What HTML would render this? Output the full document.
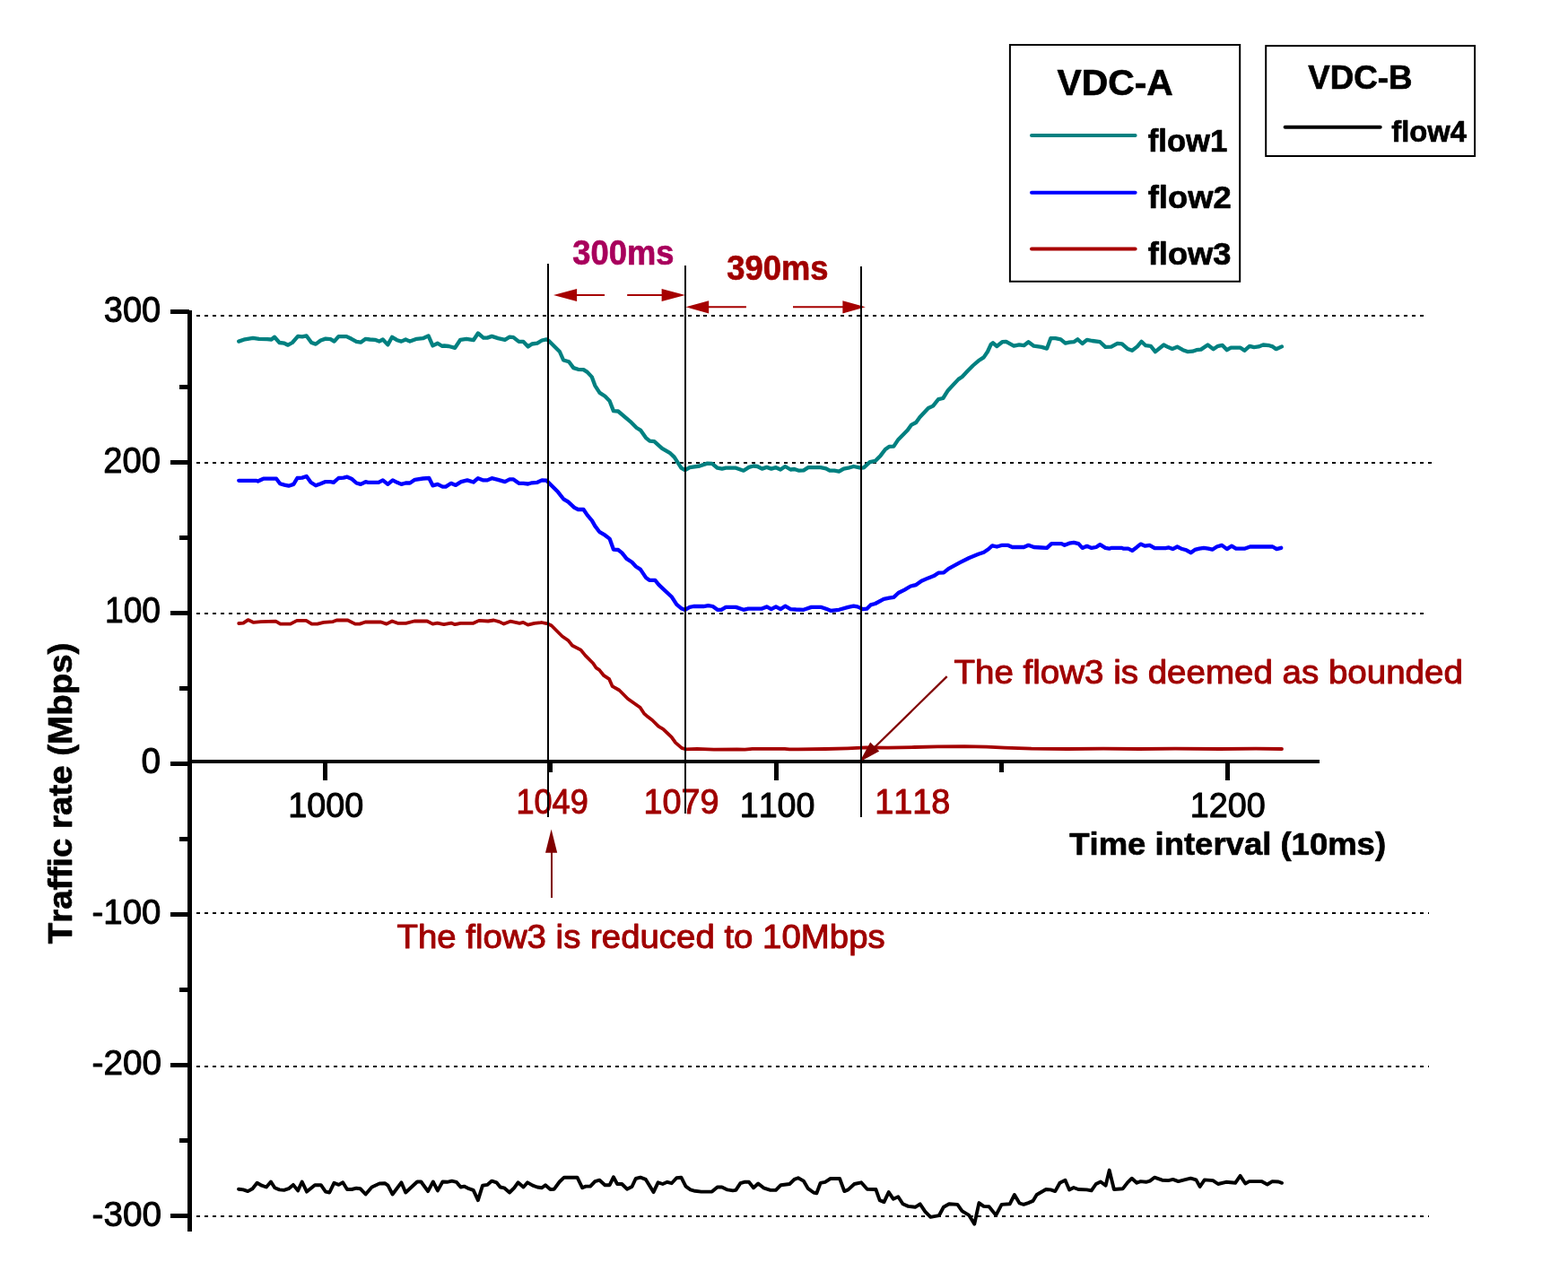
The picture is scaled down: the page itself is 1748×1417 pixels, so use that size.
<!DOCTYPE html>
<html lang="en"><head><meta charset="utf-8"><title>Traffic rate vs time interval</title>
<style>
html,body{margin:0;padding:0;background:#fff;overflow:hidden;}
svg{display:block;}
text{font-family:"Liberation Sans",sans-serif;stroke-linejoin:round;font-kerning:none;}
</style></head><body>
<svg width="1748" height="1417" viewBox="0 0 1748 1417">
<rect width="1748" height="1417" fill="#fff"/>
<g id="grid" stroke="#000" stroke-width="2" stroke-dasharray="4 4.976" fill="none" shape-rendering="crispEdges">
<line x1="219" y1="352" x2="1589.5" y2="352"/>
<line x1="219" y1="516" x2="1597" y2="516"/>
<line x1="219" y1="684" x2="1589.5" y2="684"/>
<line x1="219" y1="1018" x2="1592.8" y2="1018"/>
<line x1="219" y1="1189" x2="1592.8" y2="1189"/>
<line x1="219" y1="1356" x2="1592.8" y2="1356"/>
</g>
<g id="series" fill="none" stroke-linejoin="round" stroke-linecap="round">
<path stroke="#008080" stroke-width="4.3" d="M266.2 380.6 L273.0 378.3 L282.0 376.8 L288.8 377.8 L297.8 378.1 L302.6 378.5 L306.0 375.8 L311.5 382.0 L317.0 382.7 L321.1 384.7 L325.9 382.0 L332.1 374.8 L336.9 375.4 L341.7 374.4 L347.2 382.0 L352.0 383.6 L357.5 379.5 L363.0 377.6 L368.5 378.1 L372.6 380.6 L377.4 375.1 L386.3 375.1 L391.8 377.8 L397.3 380.9 L402.1 381.7 L407.6 377.8 L412.4 378.5 L417.9 378.8 L422.7 380.6 L426.8 378.5 L432.3 384.4 L437.1 375.8 L442.6 379.2 L447.4 380.6 L452.2 378.5 L457.0 380.6 L464.6 377.8 L471.5 377.2 L477.6 374.4 L482.4 385.4 L487.9 382.7 L492.7 385.8 L495.1 385.5 L500.3 386.0 L507.2 387.8 L513.2 378.8 L520.0 377.8 L527.8 379.2 L532.9 371.5 L538.9 376.6 L543.2 376.6 L548.3 374.9 L555.2 377.1 L562.9 378.8 L568.1 375.7 L572.4 376.1 L578.4 380.9 L583.5 380.9 L588.7 386.4 L593.0 383.5 L599.0 382.6 L604.1 379.5 L609.3 378.3 L611.8 380.0 L623.9 392.0 L628.1 401.5 L634.2 403.2 L639.3 410.1 L644.5 411.8 L650.5 412.1 L654.8 414.9 L659.9 420.4 L663.3 429.8 L668.5 437.9 L674.5 441.8 L679.6 447.0 L683.9 458.1 L689.1 458.5 L702.8 470.1 L709.7 477.0 L714.0 479.6 L720.0 488.1 L724.3 491.6 L729.4 492.1 L738.0 499.8 L746.6 504.8 L751.7 509.6 L759.4 521.6 L763.7 524.2 L768.9 521.2 L780.0 519.5 L788.6 516.6 L793.8 516.9 L799.8 521.7 L804.9 522.6 L809.2 521.7 L820.4 521.7 L828.9 524.7 L834.9 520.9 L840.1 519.5 L844.4 520.0 L849.5 522.6 L854.7 520.9 L859.8 522.6 L865.0 521.2 L870.1 523.5 L875.3 520.0 L881.3 523.5 L885.6 523.0 L890.7 524.7 L895.9 524.3 L901.0 521.2 L914.8 521.2 L920.8 522.3 L925.0 524.7 L930.2 524.7 L935.3 525.7 L940.5 522.6 L945.6 521.7 L951.6 520.0 L959.4 521.7 L962.9 521.3 L969.7 515.1 L975.7 513.9 L981.7 507.9 L986.9 501.0 L991.2 497.9 L996.3 497.6 L1001.5 489.9 L1011.8 479.6 L1016.1 473.6 L1021.2 471.0 L1025.5 465.0 L1034.9 455.0 L1040.1 452.6 L1046.1 445.2 L1051.3 444.0 L1056.4 435.8 L1068.4 422.9 L1072.7 420.0 L1078.7 413.5 L1084.7 407.5 L1090.7 402.3 L1096.7 398.4 L1101.0 392.0 L1104.5 384.3 L1107.0 382.3 L1111.3 386.0 L1117.3 381.2 L1121.6 380.9 L1130.2 385.7 L1136.2 384.3 L1141.4 385.2 L1146.5 381.2 L1152.5 385.7 L1161.1 386.9 L1167.1 388.6 L1171.4 377.1 L1176.5 377.1 L1182.5 378.3 L1187.7 382.6 L1192.0 381.7 L1197.1 381.2 L1201.4 378.3 L1206.6 383.0 L1211.7 378.8 L1217.7 380.0 L1226.3 381.2 L1232.3 386.9 L1238.8 386.7 L1245.7 382.9 L1250.8 383.3 L1257.1 388.9 L1262.1 390.8 L1267.8 386.4 L1272.5 380.8 L1277.2 385.2 L1282.9 385.8 L1287.9 392.1 L1297.3 384.5 L1302.4 387.1 L1306.8 388.9 L1312.4 386.7 L1318.7 390.2 L1323.8 392.1 L1329.4 391.7 L1333.8 390.2 L1338.9 389.6 L1346.4 384.5 L1352.7 389.2 L1357.8 385.8 L1362.8 384.9 L1367.8 390.2 L1372.2 387.7 L1382.9 387.7 L1387.3 390.8 L1393.0 385.8 L1398.0 387.1 L1403.1 386.4 L1408.1 384.5 L1415.0 385.2 L1418.8 386.4 L1422.6 389.2 L1428.9 386.4"/>
<path stroke="#0000ff" stroke-width="4.3" d="M266.2 535.8 L285.4 535.8 L287.5 536.5 L293.6 533.7 L308.1 533.7 L312.2 539.2 L317.0 540.6 L321.8 541.7 L327.3 539.9 L331.4 533.0 L336.9 532.6 L341.7 531.0 L346.5 537.8 L352.0 541.3 L357.5 539.2 L362.3 537.2 L368.5 537.2 L371.9 537.8 L377.4 533.0 L382.9 532.6 L387.0 531.7 L391.8 533.7 L397.3 538.5 L402.1 539.9 L407.6 537.2 L410.4 537.8 L422.0 537.8 L426.8 535.4 L432.3 539.9 L437.8 535.4 L442.6 537.8 L447.4 539.9 L452.2 538.5 L457.0 538.5 L462.5 534.8 L471.5 533.5 L478.3 533.0 L482.4 541.3 L487.9 539.9 L493.4 542.7 L496.9 542.6 L502.9 538.8 L508.0 540.9 L514.0 537.1 L520.9 535.4 L527.8 537.5 L532.9 533.2 L538.9 535.4 L543.2 535.4 L548.3 533.2 L555.2 534.9 L562.9 537.1 L568.1 534.4 L572.4 534.4 L578.4 538.8 L583.5 538.8 L588.7 539.5 L593.0 538.3 L599.0 537.8 L604.1 535.4 L609.3 535.7 L611.8 538.3 L622.1 548.6 L628.1 556.3 L633.3 559.4 L640.2 565.8 L644.5 568.0 L650.5 568.0 L654.8 574.4 L659.9 580.4 L663.3 586.4 L668.5 593.2 L674.5 596.7 L679.6 600.6 L683.9 612.6 L689.1 613.0 L693.4 616.4 L698.5 622.9 L704.5 626.7 L708.8 631.5 L714.0 634.9 L720.0 643.9 L724.3 646.9 L730.3 646.9 L734.6 652.1 L749.1 665.8 L754.3 673.9 L759.4 678.2 L763.7 679.9 L768.9 676.9 L773.2 676.0 L784.3 676.0 L789.5 675.2 L794.6 676.0 L799.8 679.8 L804.1 679.8 L809.2 676.9 L820.4 676.9 L828.9 679.8 L834.1 678.6 L849.5 678.6 L854.7 676.4 L859.8 679.1 L865.0 676.4 L870.1 679.1 L875.3 675.7 L881.3 679.1 L887.3 679.5 L895.9 679.8 L904.5 676.9 L915.6 676.9 L921.6 679.1 L925.9 680.8 L935.3 679.8 L945.6 676.9 L951.6 675.7 L955.9 676.4 L961.9 679.1 L966.3 678.7 L970.6 674.4 L975.7 673.0 L985.2 667.9 L991.2 666.7 L996.3 665.8 L1001.5 661.0 L1008.3 657.6 L1015.2 653.5 L1021.2 652.1 L1027.2 647.8 L1034.9 644.4 L1041.0 642.1 L1046.1 638.7 L1052.1 638.3 L1057.3 634.1 L1070.1 627.2 L1080.4 622.0 L1090.7 617.8 L1096.7 615.7 L1101.9 612.3 L1106.2 608.3 L1111.3 609.5 L1117.3 607.8 L1123.3 607.8 L1128.5 610.0 L1141.4 610.0 L1146.5 607.8 L1152.5 610.0 L1161.1 610.5 L1167.1 610.9 L1172.2 606.1 L1183.4 606.1 L1186.8 607.8 L1192.0 605.7 L1197.1 604.9 L1202.3 606.1 L1206.6 610.9 L1211.7 608.8 L1216.9 610.9 L1222.0 610.0 L1226.3 607.1 L1232.3 610.9 L1236.6 611.7 L1239.4 610.8 L1250.1 610.8 L1252.7 611.7 L1257.7 611.7 L1262.1 613.9 L1267.1 610.2 L1271.5 606.6 L1276.6 608.7 L1281.6 607.9 L1287.3 611.2 L1299.2 611.2 L1303.0 610.4 L1307.4 612.1 L1312.4 609.5 L1316.8 611.7 L1322.5 613.3 L1327.5 616.2 L1332.0 612.9 L1337.0 611.7 L1342.0 610.8 L1347.1 611.7 L1351.5 612.7 L1356.5 609.5 L1362.2 607.9 L1367.8 612.1 L1372.9 608.7 L1377.9 611.7 L1387.3 611.7 L1393.6 609.5 L1418.8 609.5 L1423.2 612.1 L1428.2 610.8"/>
<path stroke="#a40000" stroke-width="3.8" d="M266.2 695.0 L271.3 694.6 L276.5 691.1 L282.7 693.9 L290.9 693.1 L307.4 692.7 L312.5 695.6 L323.8 695.6 L331.0 691.9 L341.3 691.9 L347.5 695.6 L353.7 695.6 L360.9 693.9 L371.2 693.1 L375.3 691.5 L387.7 691.5 L395.9 695.6 L401.1 695.6 L407.2 693.5 L424.7 693.5 L430.9 695.6 L437.1 692.5 L443.3 694.8 L452.5 694.8 L461.8 692.5 L476.2 692.5 L482.4 695.6 L487.6 694.6 L494.8 696.2 L503.0 694.6 L507.1 696.2 L513.3 694.8 L527.7 694.8 L533.9 691.9 L544.2 692.5 L550.4 691.5 L556.5 693.1 L561.7 695.6 L568.9 692.7 L579.2 694.8 L583.3 693.9 L588.5 696.6 L595.7 694.8 L602.9 694.2 L603.7 694.0 L610.6 695.4 L614.9 697.5 L626.9 709.5 L633.8 714.3 L638.1 719.8 L647.5 724.6 L652.6 730.9 L661.2 739.5 L664.7 744.7 L668.1 746.9 L673.2 753.2 L679.2 757.2 L682.7 765.2 L690.4 769.5 L699.8 779.0 L713.6 788.8 L717.9 795.3 L722.1 799.1 L727.3 803.0 L734.2 809.9 L739.3 812.8 L748.7 821.9 L753.0 827.9 L759.9 833.9 L764.2 835.3 L777.1 834.8 L795.9 835.6 L821.7 835.3 L830.3 835.6 L838.8 834.8 L874.9 834.8 L880.0 835.3 L890.0 835.3 L920.0 835.0 L945.0 834.3 L965.0 833.4 L990.0 833.6 L1020.0 833.0 L1045.0 832.4 L1075.0 832.2 L1100.0 832.6 L1120.0 833.6 L1150.0 834.6 L1190.0 835.0 L1230.0 834.6 L1270.0 835.0 L1310.0 834.6 L1360.0 835.0 L1400.0 834.7 L1429.0 835.0"/>
<path stroke="#000" stroke-width="3.9" d="M266.0 1325.7 L271.2 1326.4 L276.3 1328.1 L281.5 1325.2 L286.6 1318.8 L291.7 1321.7 L296.9 1323.5 L302.0 1317.5 L306.3 1324.3 L311.5 1326.4 L316.6 1326.9 L321.8 1325.2 L326.9 1320.9 L332.1 1327.4 L336.7 1317.5 L342.0 1328.6 L351.0 1321.2 L357.8 1321.2 L363.0 1328.6 L367.3 1329.5 L372.4 1318.8 L377.6 1320.9 L382.2 1318.3 L387.0 1326.0 L392.1 1326.0 L397.3 1324.7 L401.6 1325.2 L407.6 1331.5 L414.5 1323.5 L423.0 1319.5 L429.0 1319.2 L432.5 1321.7 L437.6 1331.5 L447.4 1318.3 L452.2 1329.5 L465.1 1317.5 L469.4 1317.5 L477.1 1328.1 L482.8 1317.5 L487.9 1327.4 L493.4 1317.5 L498.5 1317.8 L503.7 1316.6 L508.8 1317.8 L513.6 1323.5 L517.4 1322.6 L522.6 1325.2 L527.7 1326.9 L532.9 1338.1 L538.0 1321.7 L543.2 1320.9 L548.3 1316.6 L553.5 1318.3 L557.7 1323.5 L562.0 1324.3 L568.0 1329.5 L573.2 1324.3 L577.5 1318.3 L583.5 1323.5 L588.1 1318.3 L593.8 1321.7 L598.9 1323.5 L604.1 1324.3 L608.0 1321.2 L613.5 1326.0 L617.8 1325.7 L623.8 1317.5 L628.9 1312.7 L643.5 1312.7 L649.2 1324.3 L653.0 1322.6 L658.1 1322.6 L663.3 1317.1 L668.4 1315.7 L674.4 1321.2 L679.6 1321.2 L683.9 1312.3 L688.1 1320.0 L693.3 1320.0 L699.0 1325.7 L704.5 1323.0 L708.7 1314.0 L713.9 1312.7 L719.9 1314.9 L728.5 1329.1 L733.6 1318.3 L738.8 1320.0 L743.9 1317.8 L748.7 1319.2 L754.2 1313.2 L759.4 1312.7 L764.5 1322.6 L769.7 1326.4 L774.8 1327.8 L781.7 1328.6 L793.7 1328.6 L799.7 1323.5 L804.8 1323.5 L810.9 1326.4 L816.9 1327.4 L820.3 1326.9 L825.4 1319.2 L829.7 1317.8 L834.9 1317.8 L840.0 1324.3 L845.2 1319.5 L851.2 1324.3 L858.9 1326.9 L864.9 1326.9 L870.5 1321.2 L880.3 1320.0 L885.5 1314.9 L889.8 1313.2 L895.8 1316.6 L900.9 1325.2 L906.9 1329.5 L910.4 1330.3 L914.7 1318.8 L919.8 1317.8 L925.8 1314.0 L936.1 1314.0 L941.3 1328.1 L945.5 1326.4 L952.4 1320.0 L960.1 1318.3 L966.7 1325.7 L976.4 1326.0 L980.7 1338.1 L985.5 1340.1 L990.7 1329.1 L995.8 1336.7 L1001.3 1334.3 L1006.5 1342.3 L1012.5 1344.9 L1020.2 1345.8 L1025.7 1342.3 L1031.4 1350.9 L1037.4 1356.9 L1046.8 1355.2 L1051.9 1345.8 L1058.0 1342.3 L1067.4 1342.9 L1072.5 1350.1 L1080.3 1354.9 L1086.3 1364.7 L1091.4 1341.1 L1096.6 1344.9 L1102.6 1345.3 L1110.3 1354.9 L1116.6 1342.9 L1125.7 1342.3 L1130.9 1332.0 L1136.6 1341.5 L1141.2 1342.9 L1146.3 1341.1 L1151.5 1338.9 L1155.7 1332.0 L1166.0 1326.0 L1171.2 1326.4 L1176.3 1328.1 L1181.5 1318.8 L1187.5 1315.7 L1192.1 1326.4 L1196.9 1324.0 L1202.1 1326.0 L1211.5 1326.4 L1216.7 1327.4 L1221.8 1320.0 L1227.0 1317.5 L1232.6 1321.7 L1236.7 1304.6 L1241.9 1326.0 L1251.8 1325.2 L1257.0 1318.3 L1261.8 1313.7 L1267.3 1318.8 L1271.6 1317.1 L1277.6 1317.8 L1281.9 1316.6 L1287.0 1312.7 L1295.6 1315.7 L1302.5 1316.1 L1307.6 1314.9 L1313.6 1317.1 L1322.2 1314.9 L1327.4 1313.7 L1333.4 1315.4 L1337.7 1323.0 L1342.8 1315.4 L1352.2 1316.1 L1357.9 1320.0 L1366.8 1317.8 L1377.1 1318.8 L1382.6 1310.9 L1388.3 1319.5 L1392.6 1317.1 L1406.3 1317.1 L1412.8 1320.5 L1418.3 1317.1 L1425.2 1317.5 L1429.0 1318.8"/>
</g>
<g id="axes" stroke="#000" fill="none" shape-rendering="crispEdges">
<line x1="211.5" y1="345.5" x2="211.5" y2="1372.5" stroke-width="5"/>
<line x1="209" y1="849" x2="1471" y2="849" stroke-width="4"/>
<g stroke-width="5" stroke-linecap="butt">
<line x1="190" y1="347.5" x2="211" y2="347.5"/>
<line x1="190" y1="515.5" x2="211" y2="515.5"/>
<line x1="190" y1="683.5" x2="211" y2="683.5"/>
<line x1="190" y1="851.5" x2="211" y2="851.5"/>
<line x1="190" y1="1019.5" x2="211" y2="1019.5"/>
<line x1="190" y1="1187.5" x2="211" y2="1187.5"/>
<line x1="190" y1="1355.5" x2="211" y2="1355.5"/>
</g>
<g stroke-width="5">
<line x1="200" y1="431.5" x2="211" y2="431.5"/>
<line x1="200" y1="599.5" x2="211" y2="599.5"/>
<line x1="200" y1="767.5" x2="211" y2="767.5"/>
<line x1="200" y1="935.5" x2="211" y2="935.5"/>
<line x1="200" y1="1103.5" x2="211" y2="1103.5"/>
<line x1="200" y1="1271.5" x2="211" y2="1271.5"/>
<line x1="362.5" y1="849" x2="362.5" y2="870"/>
<line x1="865.5" y1="849" x2="865.5" y2="870"/>
<line x1="1368.5" y1="849" x2="1368.5" y2="870"/>
<line x1="613.5" y1="849" x2="613.5" y2="861"/>
<line x1="1116.5" y1="849" x2="1116.5" y2="861"/>
</g>
</g>
<g id="arrows">
<g stroke="#a60000" stroke-width="2" fill="#a60000">
<line x1="640" y1="329" x2="674" y2="329"/>
<line x1="699.2" y1="329" x2="740" y2="329"/>
<polygon points="617,329 643.1,321.9 643.1,336.1" stroke="none"/>
<polygon points="763.9,329 737.6,321.9 737.6,336.1" stroke="none"/>
<line x1="788" y1="342.3" x2="831.9" y2="342.3"/>
<line x1="884" y1="342.3" x2="941" y2="342.3"/>
<polygon points="764.4,342.3 790.2,335.2 790.2,349.4" stroke="none"/>
<polygon points="964.8,342.3 939.4,335.2 939.4,349.4" stroke="none"/>
</g>
<g stroke="#800000" stroke-width="2.3" fill="#800000">
<line x1="1055.7" y1="754.1" x2="968" y2="840"/>
<polygon points="958.2,849.5 970.2,827.6 980.2,837.6" stroke="none"/>
<line x1="615" y1="1001" x2="615" y2="948" stroke-width="2"/>
<polygon points="614.6,924.6 608,950.8 621.2,950.8" stroke="none"/>
</g>
</g>
<g id="legend">
<rect x="1125.9" y="50" width="256.3" height="263.8" fill="none" stroke="#000" stroke-width="2"/>
<rect x="1411.2" y="51.1" width="232.9" height="122.9" fill="none" stroke="#000" stroke-width="2"/>
<g stroke-width="4" fill="none" stroke-linecap="round">
<line x1="1150" y1="151.1" x2="1265.6" y2="151.1" stroke="#008080"/>
<line x1="1150" y1="214.7" x2="1265.6" y2="214.7" stroke="#0000ff"/>
<line x1="1150" y1="277.4" x2="1265.6" y2="277.4" stroke="#a80000"/>
<line x1="1432.6" y1="141.8" x2="1538.7" y2="141.8" stroke="#000"/>
</g>
</g>
<g id="labels">
<text transform="translate(115.83,359.27) scale(0.9549,1)" font-size="39.82" font-weight="normal" fill="#000" stroke="#000" stroke-width="1.0">300</text>
<text transform="translate(115.35,527.27) scale(0.9585,1)" font-size="39.82" font-weight="normal" fill="#000" stroke="#000" stroke-width="1.0">200</text>
<text transform="translate(116.98,694.27) scale(0.9336,1)" font-size="39.82" font-weight="normal" fill="#000" stroke="#000" stroke-width="1.0">100</text>
<text transform="translate(157.55,862.27) scale(0.9734,1)" font-size="39.82" font-weight="normal" fill="#000" stroke="#000" stroke-width="1.0">0</text>
<text transform="translate(102.56,1030.27) scale(0.9724,1)" font-size="39.46" font-weight="normal" fill="#000" stroke="#000" stroke-width="1.0">-100</text>
<text transform="translate(102.55,1198.27) scale(0.9812,1)" font-size="39.46" font-weight="normal" fill="#000" stroke="#000" stroke-width="1.0">-200</text>
<text transform="translate(102.56,1366.52) scale(0.9816,1)" font-size="39.47" font-weight="normal" fill="#000" stroke="#000" stroke-width="1.0">-300</text>
<text transform="translate(321.17,910.77) scale(0.9589,1)" font-size="39.46" font-weight="normal" fill="#000" stroke="#000" stroke-width="1.0">1000</text>
<text transform="translate(824.68,910.77) scale(0.9548,1)" font-size="39.46" font-weight="normal" fill="#000" stroke="#000" stroke-width="1.0">1100</text>
<text transform="translate(1326.68,910.77) scale(0.9565,1)" font-size="39.46" font-weight="normal" fill="#000" stroke="#000" stroke-width="1.0">1200</text>
<text transform="translate(575.48,907.27) scale(0.9313,1)" font-size="38.76" font-weight="normal" fill="#a00000" stroke="#a00000" stroke-width="1.0">1049</text>
<text transform="translate(717.42,906.76) scale(0.9586,1)" font-size="39.46" font-weight="normal" fill="#a00000" stroke="#a00000" stroke-width="1.0">1079</text>
<text transform="translate(975.17,907.02) scale(0.9577,1)" font-size="39.46" font-weight="normal" fill="#a00000" stroke="#a00000" stroke-width="1.0">1118</text>
<text transform="translate(1192.25,952.72) scale(1.0264,1)" font-size="35.55" font-weight="bold" fill="#000" stroke="#000" stroke-width="0.7">Time interval (10ms)</text>
<text transform="translate(638.29,295.02) scale(0.9546,1)" font-size="38.05" font-weight="bold" fill="#a8005c" stroke="#a8005c" stroke-width="0.7">300ms</text>
<text transform="translate(810.30,311.51) scale(0.9378,1)" font-size="38.74" font-weight="bold" fill="#a00000" stroke="#a00000" stroke-width="0.7">390ms</text>
<text transform="translate(1063.51,761.54) scale(1.0372,1)" font-size="37.14" font-weight="normal" fill="#a00000" stroke="#a00000" stroke-width="1.0">The flow3 is deemed as bounded</text>
<text transform="translate(442.50,1056.62) scale(1.0324,1)" font-size="37.20" font-weight="normal" fill="#a00000" stroke="#a00000" stroke-width="1.0">The flow3 is reduced to 10Mbps</text>
<text transform="translate(1178.50,105.77) scale(1.0088,1)" font-size="40.51" font-weight="bold" fill="#000" stroke="#000" stroke-width="0.7">VDC-A</text>
<text transform="translate(1458.25,99.27) scale(1.0024,1)" font-size="36.64" font-weight="bold" fill="#000" stroke="#000" stroke-width="0.7">VDC-B</text>
<text transform="translate(1279.76,168.55) scale(1.0114,1)" font-size="34.29" font-weight="bold" fill="#000" stroke="#000" stroke-width="0.7">flow1</text>
<text transform="translate(1279.75,231.79) scale(1.0497,1)" font-size="34.64" font-weight="bold" fill="#000" stroke="#000" stroke-width="0.7">flow2</text>
<text transform="translate(1279.76,294.79) scale(1.0275,1)" font-size="35.34" font-weight="bold" fill="#000" stroke="#000" stroke-width="0.7">flow3</text>
<text transform="translate(1551.25,157.55) scale(1.0065,1)" font-size="32.54" font-weight="bold" fill="#000" stroke="#000" stroke-width="0.7">flow4</text>
<text transform="translate(80.22,1052.25) rotate(-90) scale(1.0431,1)" font-size="36.90" font-weight="bold" fill="#000" stroke="#000" stroke-width="0.7">Traffic rate (Mbps)</text>
</g>
<g id="markers" stroke="#000" stroke-width="2" fill="none" shape-rendering="crispEdges">
<line x1="611" y1="294" x2="611" y2="911"/>
<line x1="764" y1="296" x2="764" y2="906.5"/>
<line x1="960" y1="297" x2="960" y2="911"/>
</g>
</svg>
</body></html>
